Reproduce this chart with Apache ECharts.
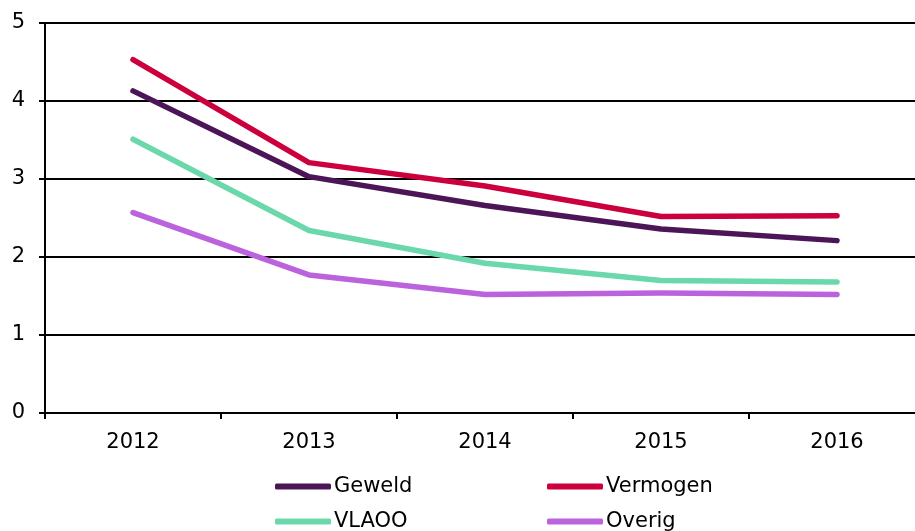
<!DOCTYPE html>
<html>
<head>
<meta charset="utf-8">
<script src="https://cdn.jsdelivr.net/npm/echarts@6/dist/echarts.min.js"></script>
<style>
  html, body { margin: 0; padding: 0; background: #fff; }
  #chart { width: 915px; height: 531px; }
</style>
</head>
<body>
<div id="chart"></div>
<script>
// Yearly values per category
const years = ['2012', '2013', '2014', '2015', '2016'];
const geweld = [4.13, 3.03, 2.66, 2.36, 2.21];
const vermogen = [4.53, 3.21, 2.91, 2.52, 2.53];
const vlaoo = [3.51, 2.34, 1.92, 1.70, 1.68];
const overig = [2.57, 1.77, 1.52, 1.54, 1.52];
const yTicks = [0, 1, 2, 3, 4, 5];

const FONT = 'DejaVu Sans';
const FS = 21;
const chart = echarts.init(document.getElementById('chart'));

function lineSeries(name, data, color) {
  return {
    name: name,
    type: 'line',
    data: data,
    showSymbol: false,
    symbol: 'none',
    animation: false,
    lineStyle: { color: color, width: 5.5, cap: 'round', join: 'round' },
    itemStyle: { color: color }
  };
}

function legendAt(name, left, top) {
  return {
    data: [name],
    left: left,
    top: top,
    padding: 0,
    icon: 'roundRect',
    itemWidth: 56,
    itemHeight: 6,
    itemGap: 0,
    selectedMode: false,
    textStyle: { fontFamily: FONT, fontSize: FS, color: '#000', padding: [0, 0, 0, -2] }
  };
}

chart.setOption({
  backgroundColor: '#fff',
  animation: false,
  grid: { left: 45, top: 23, width: 880, height: 390, containLabel: false, outerBoundsMode: 'none' },
  xAxis: {
    type: 'category',
    data: years,
    boundaryGap: true,
    axisLine: { lineStyle: { color: '#000', width: 2 } },
    axisTick: { show: true, length: 6, lineStyle: { color: '#000', width: 2 } },
    axisLabel: { color: '#000', fontFamily: FONT, fontSize: FS, margin: 19 }
  },
  yAxis: {
    type: 'value',
    min: yTicks[0],
    max: yTicks[yTicks.length - 1],
    interval: 1,
    axisLine: { show: true, lineStyle: { color: '#000', width: 2 } },
    axisTick: { show: true, length: 6, lineStyle: { color: '#000', width: 2 } },
    axisLabel: { color: '#000', fontFamily: FONT, fontSize: FS, margin: 20 },
    splitLine: { show: true, lineStyle: { color: '#000', width: 2 } }
  },
  legend: [
    legendAt('Geweld', 275, 476),
    legendAt('Vermogen', 547, 476),
    legendAt('VLAOO', 275, 511),
    legendAt('Overig', 547, 511)
  ],
  series: [
    lineSeries('Geweld', geweld, '#4b1558'),
    lineSeries('Vermogen', vermogen, '#cc003d'),
    lineSeries('VLAOO', vlaoo, '#6ad8aa'),
    lineSeries('Overig', overig, '#bb63dd')
  ]
});
</script>
</body>
</html>
